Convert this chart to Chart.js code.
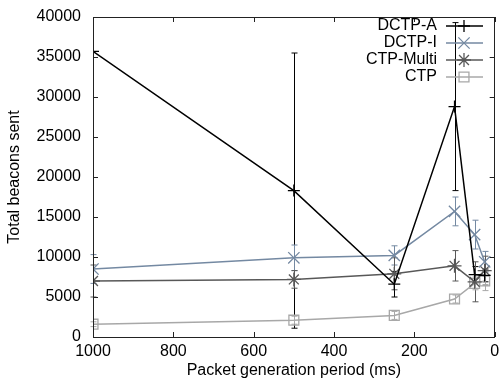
<!DOCTYPE html>
<html lang="en">
<head>
    <meta charset="UTF-8">
    <title>Total beacons sent</title>
    <script src="https://cdn.jsdelivr.net/npm/chart.js"></script>
    <style>
        body { margin: 0; background: #fff; }
    </style>
</head>
<body>
<canvas id="beaconChart" width="504" height="386"></canvas>
<script>
    // packet generation period (ms)
    const periods = [1000, 500, 250, 100, 50, 25];

    const dctpA = [35700, 18300, 6600, 28800, 7800, 7700];
    const dctpAErr = [0, 17200, 1600, 10500, 1000, 800];
    const dctpI = [8500, 9900, 10200, 15700, 12800, 9400];
    const dctpIErr = [1800, 1600, 1200, 1800, 1800, 1300];
    const ctpMulti = [7000, 7200, 7900, 8900, 6900, 8300];
    const ctpMultiErr = [2000, 1100, 2000, 1900, 2500, 1800];
    const ctp = [1600, 2100, 2700, 4750, 6700, 7000];
    const ctpErr = [300, 500, 500, 500, 800, 1200];

    const xTicks = [0, 200, 400, 600, 800, 1000];
    const yTicks = [0, 5000, 10000, 15000, 20000, 25000, 30000, 35000, 40000];

    const FONT = 'Liberation Sans, Arial, sans-serif';

    function pts(ys) {
        return periods.map((p, i) => ({ x: p, y: ys[i] }));
    }

    function series(label, ys, errs, color, style, radius) {
        return {
            label: label,
            data: pts(ys),
            errors: errs,
            borderColor: color,
            backgroundColor: 'rgba(0,0,0,0)',
            pointBorderColor: color,
            pointBackgroundColor: 'rgba(0,0,0,0)',
            pointStyle: style,
            pointRadius: radius,
            pointBorderWidth: 1.3,
            borderWidth: 1.5,
            tension: 0,
            fill: false
        };
    }

    const datasets = [
        series('DCTP-A', dctpA, dctpAErr, '#000000', 'cross', 6),
        series('DCTP-I', dctpI, dctpIErr, '#7489a2', 'crossRot', 8),
        series('CTP-Multi', ctpMulti, ctpMultiErr, '#585858', 'star', 7),
        series('CTP', ctp, ctpErr, '#a8a8a8', 'rect', 7)
    ];

    // error bars, frame with inward ticks, gnuplot style legend
    const gnuplotLook = {
        id: 'gnuplotLook',
        beforeDatasetsDraw(chart) {
            const c = chart.ctx, xs = chart.scales.x, ys = chart.scales.y;
            c.save();
            c.lineWidth = 1;
            chart.data.datasets.forEach(ds => {
                c.strokeStyle = ds.borderColor;
                ds.data.forEach((p, i) => {
                    const e = ds.errors[i];
                    if (!e) return;
                    const px = Math.round(xs.getPixelForValue(p.x)) + 0.5;
                    const top = ys.getPixelForValue(p.y + e);
                    const bot = ys.getPixelForValue(p.y - e);
                    c.beginPath();
                    c.moveTo(px, top); c.lineTo(px, bot);
                    c.moveTo(px - 3, top); c.lineTo(px + 3, top);
                    c.moveTo(px - 3, bot); c.lineTo(px + 3, bot);
                    c.stroke();
                });
            });
            c.restore();
        },
        afterDraw(chart) {
            const c = chart.ctx, a = chart.chartArea;
            const xs = chart.scales.x, ys = chart.scales.y;
            c.save();
            c.strokeStyle = '#222';
            c.lineWidth = 1;
            c.strokeRect(Math.round(a.left) + 0.5, Math.round(a.top) + 0.5,
                Math.round(a.right - a.left) - 1, Math.round(a.bottom - a.top));
            c.beginPath();
            xTicks.forEach(v => {
                const px = Math.round(xs.getPixelForValue(v)) + 0.5;
                c.moveTo(px, a.bottom); c.lineTo(px, a.bottom - 5);
                c.moveTo(px, a.top); c.lineTo(px, a.top + 5);
            });
            yTicks.forEach(v => {
                const py = Math.round(ys.getPixelForValue(v)) + 0.5;
                c.moveTo(a.left, py); c.lineTo(a.left + 5, py);
                c.moveTo(a.right, py); c.lineTo(a.right - 5, py);
            });
            c.stroke();

            // legend
            c.font = '16px ' + FONT;
            c.textAlign = 'right';
            c.textBaseline = 'middle';
            chart.data.datasets.forEach((ds, i) => {
                const y = 26 + i * 17;
                c.fillStyle = '#000';
                c.fillText(ds.label, 437, y);
                c.strokeStyle = ds.borderColor;
                c.lineWidth = ds.borderWidth;
                c.beginPath();
                c.moveTo(446, y); c.lineTo(483, y);
                c.stroke();
                c.fillStyle = 'rgba(0,0,0,0)';
                c.lineWidth = ds.pointBorderWidth;
                Chart.helpers.drawPoint(c, {
                    pointStyle: ds.pointStyle,
                    radius: ds.pointRadius,
                    rotation: 0,
                    borderWidth: ds.pointBorderWidth
                }, 464, y);
            });
            c.restore();
        }
    };

    const config = {
        type: 'line',
        data: { datasets: datasets },
        options: {
            responsive: false,
            animation: false,
            layout: { padding: { top: 17, right: 6, left: 0, bottom: 0 } },
            plugins: {
                legend: { display: false },
                tooltip: { enabled: false }
            },
            scales: {
                x: {
                    type: 'linear',
                    reverse: true,
                    min: 0,
                    max: 1000,
                    afterFit: s => {
                        s.height = 49;
                        s.paddingLeft = 0; s.paddingRight = 0;
                    },
                    afterBuildTicks: s => { s.ticks = xTicks.map(v => ({ value: v })); },
                    grid: { display: false, drawTicks: false },
                    border: { display: false },
                    ticks: {
                        padding: 5,
                        maxRotation: 0,
                        color: '#000',
                        font: { family: FONT, size: 16 },
                        callback: v => String(v)
                    },
                    title: {
                        display: true,
                        text: 'Packet generation period (ms)',
                        color: '#000',
                        font: { family: FONT, size: 16 },
                        padding: { top: 0, bottom: 6 }
                    }
                },
                y: {
                    min: 0,
                    max: 40000,
                    afterFit: s => {
                        s.width = 93;
                        s.paddingTop = 0; s.paddingBottom = 0;
                    },
                    afterBuildTicks: s => { s.ticks = yTicks.map(v => ({ value: v })); },
                    grid: { display: false, drawTicks: false },
                    border: { display: false },
                    ticks: {
                        padding: 12,
                        color: '#000',
                        font: { family: FONT, size: 16 },
                        callback: v => String(v)
                    },
                    title: {
                        display: true,
                        text: 'Total beacons sent',
                        color: '#000',
                        font: { family: FONT, size: 16 },
                        padding: { top: 5, bottom: 0 }
                    }
                }
            }
        },
        plugins: [gnuplotLook]
    };

    new Chart(document.getElementById('beaconChart').getContext('2d'), config);
</script>
</body>
</html>
